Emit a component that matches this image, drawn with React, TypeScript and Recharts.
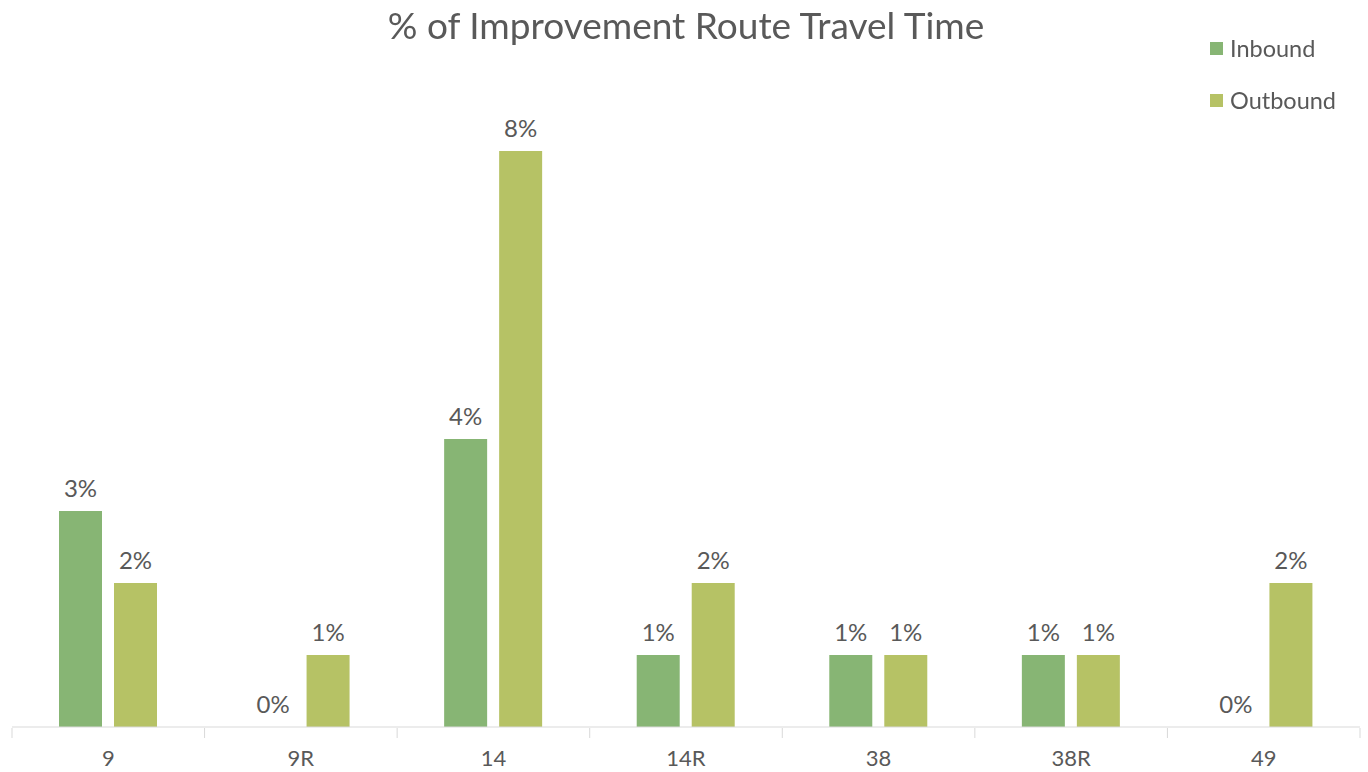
import { Bar, BarChart, LabelList, XAxis, YAxis } from "recharts";

const routes = ["9", "9R", "14", "14R", "38", "38R", "49"];
// the "0%" routes are very small, not exactly zero (no visible bar, label rounds to 0%)
const inbound = [3, 0.001, 4, 1, 1, 1, 0.001];
const outbound = [2, 1, 8, 2, 1, 1, 2];

const data = routes.map((route, i) => ({
  route,
  inbound: inbound[i],
  outbound: outbound[i],
}));

const FONT = "Lato, 'Open Sans', sans-serif";
const TEXT = "#595959";
const INBOUND_COLOR = "#87b574";
const OUTBOUND_COLOR = "#b6c265";
const BAND = (1360 - 12) / routes.length;

const pct = (v: any) => `${Math.round(Number(v))}%`;

function RouteTick(props: any) {
  const { x, y, payload, index } = props;
  const last = index === routes.length - 1;
  return (
    <g>
      <line x1={x - BAND / 2} x2={x - BAND / 2} y1={y - 7} y2={y + 3} stroke="#d9d9d9" />
      {last && <line x1={x + BAND / 2} x2={x + BAND / 2} y1={y - 7} y2={y + 3} stroke="#d9d9d9" />}
      <text x={x} y={y + 31} textAnchor="middle" fill={TEXT} fontSize={22} fontFamily={FONT}>
        {payload.value}
      </text>
    </g>
  );
}

function LegendBox() {
  const items = [
    { name: "Inbound", color: INBOUND_COLOR },
    { name: "Outbound", color: OUTBOUND_COLOR },
  ];
  return (
    <div
      style={{
        position: "absolute",
        left: 1210,
        top: 22,
        fontFamily: FONT,
        fontSize: 23.5,
        color: TEXT,
      }}
    >
      {items.map((it) => (
        <div key={it.name} style={{ display: "flex", alignItems: "center", height: 52 }}>
          <span style={{ width: 13, height: 13, background: it.color, marginRight: 7 }} />
          {it.name}
        </div>
      ))}
    </div>
  );
}

export default function App() {
  return (
    <div style={{ position: "fixed", left: 0, top: 0, width: 1368, height: 772, background: "#fff" }}>
      <BarChart
        width={1368}
        height={772}
        data={data}
        margin={{ top: 79, right: 8, bottom: 0, left: 12 }}
        barSize={43}
        barGap={12}
      >
        <XAxis
          dataKey="route"
          height={45}
          axisLine={{ stroke: "#d9d9d9" }}
          tickLine={false}
          tick={<RouteTick />}
          interval={0}
        />
        <YAxis hide domain={[0, 9]} />
        <Bar dataKey="inbound" name="Inbound" fill={INBOUND_COLOR} isAnimationActive={false}>
          <LabelList
            dataKey="inbound"
            position="top"
            offset={14}
            formatter={pct}
            fill={TEXT}
            fontSize={24}
            fontFamily={FONT}
          />
        </Bar>
        <Bar dataKey="outbound" name="Outbound" fill={OUTBOUND_COLOR} isAnimationActive={false}>
          <LabelList
            dataKey="outbound"
            position="top"
            offset={14}
            formatter={pct}
            fill={TEXT}
            fontSize={24}
            fontFamily={FONT}
          />
        </Bar>
      </BarChart>
      <div
        style={{
          position: "absolute",
          top: 2,
          left: 0,
          width: 1372,
          textAlign: "center",
          fontFamily: FONT,
          fontSize: 37,
          color: TEXT,
        }}
      >
        % of Improvement Route Travel Time
      </div>
      <LegendBox />
    </div>
  );
}
